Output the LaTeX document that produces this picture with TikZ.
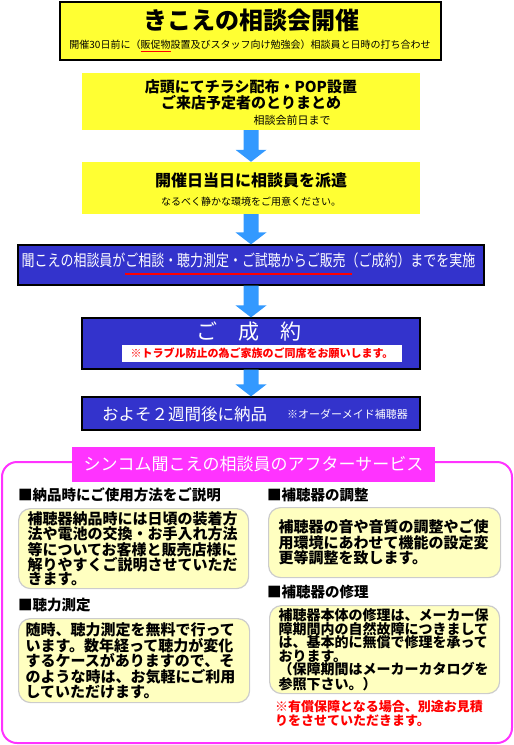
\documentclass[tikz,border=0pt]{standalone}
\usepackage{fontspec}
\setmainfont{Noto Sans CJK JP}
\usepackage{graphicx}
\usepackage{tikz}
\usetikzlibrary{calc}
\definecolor{signyellow}{HTML}{FFFF33}
\definecolor{signblue}{HTML}{3333CC}
\definecolor{arrowblue}{HTML}{3399FF}
\definecolor{pinkline}{HTML}{FF33FF}
\definecolor{creamfill}{HTML}{FFFFC0}
\definecolor{creamline}{HTML}{CCCCCC}
\tikzset{
  yellowbox/.style={fill=signyellow, minimum width=338pt, inner sep=0pt},
  bluebox/.style={fill=signblue, draw=black, line width=1.2pt, inner sep=0pt},
  notebox/.style={fill=creamfill, draw=creamline, line width=1.2pt, rounded corners=12pt,
    align=left, anchor=north west, inner xsep=9pt, inner ysep=0pt,
    font=\bfseries\fontsize{15}{14}\selectfont},
  heading/.style={anchor=west, inner sep=0pt, font=\bfseries\fontsize{14.5}{16}\selectfont}
}
% block arrow from the bottom of one box to the top of the next
\newcommand\flowarrow[2]{%
  \fill[arrowblue] let \p1=(#1.south), \p2=(#2.north) in
    (\x1-7.5pt,\y1) -- (\x1-7.5pt,\y2+12pt) -- (\x1-15.5pt,\y2+12pt) -- (\x1,\y2)
    -- (\x1+15.5pt,\y2+12pt) -- (\x1+7.5pt,\y2+12pt) -- (\x1+7.5pt,\y1) -- cycle;}
% red underline: depth, thickness, extra length, text
\newcommand\redul[4]{\setbox0\hbox{#4}\rlap{\color{red}\rule[-#1]{\dimexpr\wd0+#3\relax}{#2}}\box0}

\begin{document}
\begin{tikzpicture}[x=1pt, y=-1pt]
  \useasboundingbox (0,0) rectangle (514,745);
  % flow of the event
  \node[yellowbox, draw=black, line width=2.5pt, minimum width=381pt, minimum height=58pt] (kaisai) at (250.5,31) {};
  \node[font=\bfseries\fontsize{24}{24}\selectfont, inner sep=0pt] (kaisaititle) at (251,20) {きこえの相談会開催};
  \node[font=\fontsize{10}{10}\selectfont, inner sep=0pt] (kaisainote) at (250,46)
    {開催30日前に（\redul{4pt}{1.2pt}{0pt}{販促物}設置及びスタッフ向け勉強会）相談員と日時の打ち合わせ};

  \node[yellowbox, minimum height=57pt] (tenpo) at (251,101.5) {};
  \node[font=\bfseries\fontsize{15}{16}\selectfont, align=center, inner sep=0pt] (tenpotext) at (251,94.5)
    {店頭にてチラシ配布・POP設置\\ご来店予定者のとりまとめ};
  \node[font=\fontsize{11}{11}\selectfont, inner sep=0pt] (tenpodate) at (292,120) {相談会前日まで};

  \node[yellowbox, minimum height=52pt] (haken) at (251,188) {};
  \node[font=\bfseries\fontsize{16}{16}\selectfont, inner sep=0pt] (hakentitle) at (251,180) {開催日当日に相談員を派遣};
  \node[font=\fontsize{10}{10}\selectfont, inner sep=0pt] (hakennote) at (251,202) {なるべく静かな環境をご用意ください。};

  \node[bluebox, minimum width=466pt, minimum height=40pt] (jisshi) at (251,265) {};
  \node[text=white, font=\fontsize{16}{16}\selectfont, inner sep=0pt] (jisshitext) at (248.5,264)
    {\scalebox{0.81}[1]{聞こえの相談員が\redul{8pt}{2pt}{8pt}{ご相談・聴力測定・ご試聴からご販売}（ご成約）までを実施}};

  \node[bluebox, minimum width=338pt, minimum height=51pt] (seiyaku) at (251,343.5) {};
  \node[text=white, font=\fontsize{21}{21}\selectfont, inner sep=0pt] (seiyakutitle) at (249,332) {ご　成　約};
  \node[fill=white, minimum width=280pt, minimum height=17pt, inner sep=0pt, text=red,
    font=\bfseries\fontsize{11}{11}\selectfont] (seiyakunote) at (262,353.5) {※トラブル防止の為ご家族のご同席をお願いします。};

  \node[bluebox, minimum width=338pt, minimum height=33pt] (nouhin) at (251,413.5) {};
  \node[text=white, anchor=west, font=\fontsize{16.5}{16.5}\selectfont, inner sep=0pt] (nouhintext) at (102,414) {およそ２週間後に納品};
  \node[text=white, anchor=west, font=\fontsize{11}{11}\selectfont, inner sep=0pt] (nouhinnote) at (287,414) {※オーダーメイド補聴器};

  \flowarrow{tenpo}{haken}
  \flowarrow{haken}{jisshi}
  \flowarrow{jisshi}{seiyaku}
  \flowarrow{seiyaku}{nouhin}

  % after service
  \node[draw=pinkline, line width=2pt, rounded corners=15pt, minimum width=510pt, minimum height=281pt] (afterframe) at (257,602.5) {};
  \node[fill=pinkline, minimum width=363pt, minimum height=35pt, inner sep=0pt, text=white,
    font=\fontsize{17}{17}\selectfont] (aftertitle) at (253.5,464.5) {シンコム聞こえの相談員のアフターサービス};

  \node[heading] (setsumeihead) at (18,495) {■納品時にご使用方法をご説明};
  \node[heading] (chouseihead) at (267,495) {■補聴器の調整};
  \node[heading] (sokuteihead) at (18,605) {■聴力測定};
  \node[heading] (shurihead) at (267,592) {■補聴器の修理};

  \node[notebox, text width=212pt, minimum height=80pt] (setsumei) at (18,508)
    {補聴器納品時には日頃の装着方\\法や電池の交換・お手入れ方法\\等についてお客様と販売店様に\\解りやすくご説明させていただ\\きます。};
  \node[notebox, text width=212pt, inner xsep=10pt, minimum height=70pt] (chousei) at (268,507)
    {補聴器の音や音質の調整やご使\\用環境にあわせて機能の設定変\\更等調整を致します。};
  \node[notebox, text width=217pt, inner xsep=7pt, minimum height=84pt] (sokutei) at (18,618)
    {随時、聴力測定を無料で行って\\います。数年経って聴力が変化\\するケースがありますので、そ\\のような時は、お気軽にご利用\\していただけます。};
  \node[notebox, text width=212pt, minimum height=88pt, font=\bfseries\fontsize{14}{13.5}\selectfont] (shuri) at (269,605)
    {補聴器本体の修理は、メーカー保\\障期間内の自然故障につきまして\\は、基本的に無償で修理を承って\\おります。\\（保障期間はメーカーカタログを\\参照下さい。）};
  \node[anchor=north west, align=left, inner sep=0pt, text=red, font=\bfseries\fontsize{13}{14}\selectfont] (yuushou) at (275,700)
    {※有償保障となる場合、別途お見積\\りをさせていただきます。};
\end{tikzpicture}
\end{document}
